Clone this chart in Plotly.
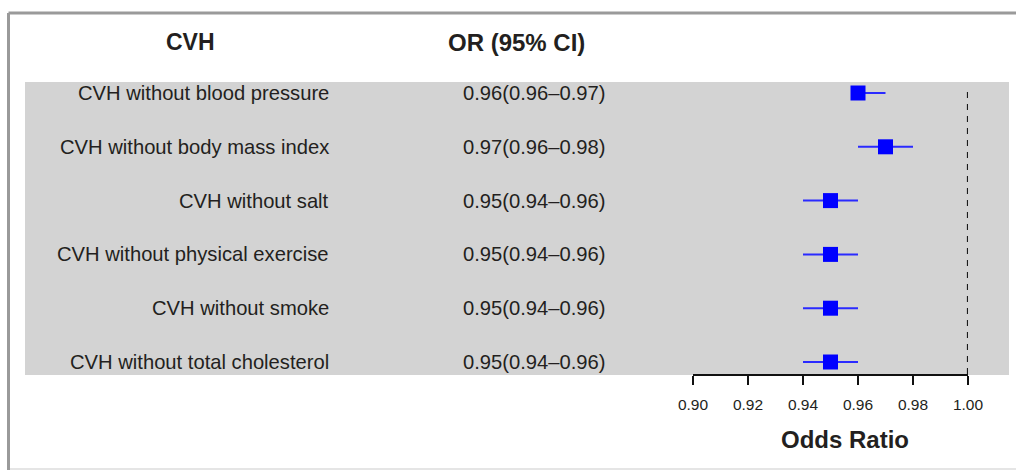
import plotly.graph_objects as go

labels = [
    "CVH without blood pressure",
    "CVH without body mass index",
    "CVH without salt",
    "CVH without physical exercise",
    "CVH without smoke",
    "CVH without total cholesterol",
]
or_vals = [0.96, 0.97, 0.95, 0.95, 0.95, 0.95]
ci_low = [0.96, 0.96, 0.94, 0.94, 0.94, 0.94]
ci_high = [0.97, 0.98, 0.96, 0.96, 0.96, 0.96]
tick_vals = [0.90, 0.92, 0.94, 0.96, 0.98, 1.00]
col_headers = ["CVH", "OR (95% CI)"]
x_title = "Odds Ratio"

W, H = 1016, 470
TXT = "#231f20"
FONT = "Liberation Sans, Arial, Helvetica, sans-serif"

def px(x):
    return x / W

def py(y):
    return (H - y) / H

fig = go.Figure()

fig.add_trace(go.Scatter(
    x=or_vals,
    y=list(range(len(labels))),
    mode="markers",
    marker=dict(symbol="square", size=15, color="#0000ff", line=dict(width=0)),
    error_x=dict(
        type="data", symmetric=False,
        array=[h - o for h, o in zip(ci_high, or_vals)],
        arrayminus=[o - l for o, l in zip(or_vals, ci_low)],
        color="#2a2aff", thickness=2, width=0,
    ),
    showlegend=False,
    hoverinfo="skip",
))

shapes = [
    # gray background band
    dict(type="rect", xref="paper", yref="paper",
         x0=px(25), x1=px(1009), y0=py(375), y1=py(82),
         fillcolor="#d3d3d3", line=dict(width=0), layer="below"),
    # reference line at OR = 1
    dict(type="line", xref="x", yref="paper", x0=1.0, x1=1.0,
         y0=py(374), y1=py(86),
         line=dict(color="#1a1a1a", width=2.2, dash="6px,6px")),
    # frame
    dict(type="line", xref="paper", yref="paper", x0=px(8.5), x1=1, y0=py(13), y1=py(13),
         line=dict(color="#9a9a9a", width=3)),
    dict(type="line", xref="paper", yref="paper", x0=px(8.5), x1=px(8.5), y0=py(13), y1=0,
         line=dict(color="#9a9a9a", width=3)),
    dict(type="line", xref="paper", yref="paper", x0=px(10), x1=1, y0=py(469), y1=py(469),
         line=dict(color="#dcdcdc", width=1.5)),
]

annotations = []
annotations.append(dict(text="<b>%s</b>" % col_headers[0], xref="paper", yref="paper",
                        x=px(190), y=py(42), xanchor="center", yanchor="middle",
                        showarrow=False, font=dict(size=23, color=TXT, family=FONT)))
annotations.append(dict(text="<b>%s</b>" % col_headers[1], xref="paper", yref="paper",
                        x=px(446), y=py(42), xanchor="left", yanchor="middle",
                        showarrow=False, font=dict(size=24, color=TXT, family=FONT)))
for i, lab in enumerate(labels):
    annotations.append(dict(text=lab, xref="paper", yref="y", x=px(331), y=i,
                            xanchor="right", yanchor="middle", showarrow=False,
                            font=dict(size=20.2, color=TXT, family=FONT)))
    txt = "%.2f(%.2f\u2013%.2f)" % (or_vals[i], ci_low[i], ci_high[i])
    annotations.append(dict(text=txt, xref="paper", yref="y", x=px(461), y=i,
                            xanchor="left", yanchor="middle", showarrow=False,
                            font=dict(size=20.2, color=TXT, family=FONT)))
annotations.append(dict(text="<b>%s</b>" % x_title, xref="paper", yref="paper",
                        x=px(845), y=py(439), xanchor="center", yanchor="middle",
                        showarrow=False, font=dict(size=24, color=TXT, family=FONT)))

row_px0, row_step = 93.0, 53.8
y_top = (0 - row_px0) / row_step
y_bot = (374 - row_px0) / row_step

fig.update_layout(
    width=W, height=H,
    margin=dict(l=0, r=0, t=0, b=0, pad=0, autoexpand=False),
    paper_bgcolor="white",
    plot_bgcolor="rgba(0,0,0,0)",
    shapes=shapes,
    annotations=annotations,
    xaxis=dict(
        domain=[px(693), px(968)],
        range=[0.90, 1.00],
        showline=True, linecolor="#111111", linewidth=1.5,
        ticks="outside", ticklen=9, tickwidth=1.5, tickcolor="#111111",
        tickvals=tick_vals, ticktext=["%.2f" % v for v in tick_vals],
        tickfont=dict(size=15.5, color=TXT, family=FONT),
        ticklabelstandoff=7,
        showgrid=False, zeroline=False, fixedrange=True, automargin=False,
    ),
    yaxis=dict(
        domain=[py(374), 1],
        range=[y_bot, y_top],
        visible=False, showgrid=False, zeroline=False, fixedrange=True, automargin=False,
    ),
)

post = ("document.documentElement.style.overflow='hidden';"
        "document.body.style.margin='0';"
        "document.body.style.padding='0';"
        "document.body.style.overflow='hidden';")

fig.write_html("out.html", config={"displayModeBar": False}, post_script=post)
